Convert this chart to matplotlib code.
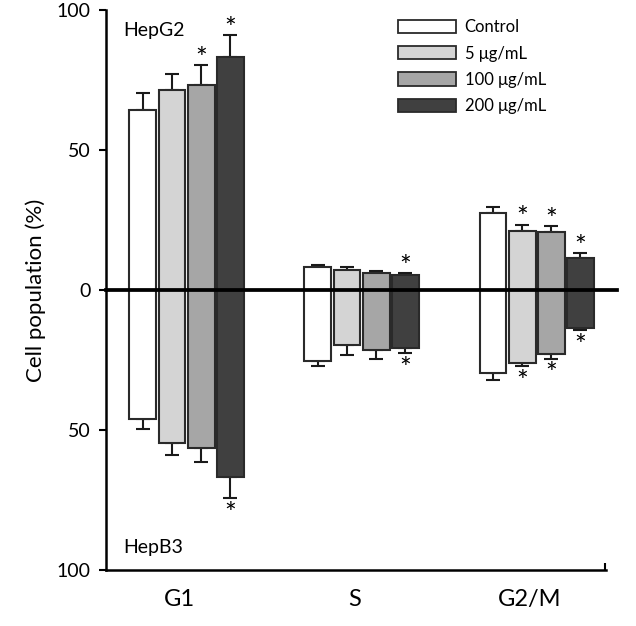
import numpy as np
import matplotlib
matplotlib.use('Agg')
import matplotlib.pyplot as plt
from matplotlib.patches import Patch

plt.rcParams['font.family'] = ['Lato', 'DejaVu Sans']

# phases and treatments
phases = ['G1', 'S', 'G2/M']
treatments = ['Control', '5 μg/mL', '100 μg/mL', '200 μg/mL']
colors = ['#ffffff', '#d4d4d4', '#a6a6a6', '#404040']

# HepG2 (drawn upward), rows = treatment, cols = phase
hepg2_mean = [[64.4, 8.2, 27.4],
              [71.4, 7.3, 21.2],
              [73.2, 6.1, 20.8],
              [83.1, 5.4, 11.6]]
hepg2_err = [[6.1, 0.9, 2.4],
             [5.9, 0.9, 2.1],
             [7.1, 0.8, 1.9],
             [8.0, 0.6, 1.6]]
hepg2_sig = [[False, False, False],
             [False, False, True],
             [True, False, True],
             [True, True, True]]

# HepB3 (drawn downward)
hepb3_mean = [[45.9, 25.2, 29.6],
              [54.8, 19.7, 25.9],
              [56.5, 21.4, 22.7],
              [66.7, 20.6, 13.4]]
hepb3_err = [[3.6, 1.9, 2.5],
             [4.2, 3.6, 1.2],
             [5.0, 3.3, 1.8],
             [7.7, 2.0, 0.9]]
hepb3_sig = [[False, False, False],
             [False, False, True],
             [False, False, True],
             [True, True, True]]

fig = plt.figure(figsize=(6.36, 6.26), dpi=100)
ax = fig.add_axes([0.1667, 0.0895, 0.7862, 0.8945])

x = np.arange(len(phases))
step = 0.166
width = 0.154

for i, t in enumerate(treatments):
    xi = x + (i - 1.5) * step
    up = np.array(hepg2_mean[i])
    dn = -np.array(hepb3_mean[i])
    ax.bar(xi, up, width, color=colors[i], edgecolor='#2a2a2a', linewidth=1.5, zorder=2)
    ax.bar(xi, dn, width, color=colors[i], edgecolor='#2a2a2a', linewidth=1.5, zorder=2)
    eu = np.array(hepg2_err[i])
    ed = np.array(hepb3_err[i])
    ax.errorbar(xi, up, yerr=[np.zeros(3), eu], fmt='none', ecolor='#1a1a1a',
                elinewidth=1.5, capsize=4.8, capthick=1.5, zorder=1)
    ax.errorbar(xi, dn, yerr=[ed, np.zeros(3)], fmt='none', ecolor='#1a1a1a',
                elinewidth=1.5, capsize=4.8, capthick=1.5, zorder=1)
    # significance stars (Lato's asterisk sits high in its box, hence the offsets)
    for j in range(3):
        if hepg2_sig[i][j]:
            ax.annotate('*', (xi[j], up[j] + eu[j]), xytext=(0, -5.5),
                        textcoords='offset points', ha='center', va='bottom', fontsize=20)
        if hepb3_sig[i][j]:
            ax.annotate('*', (xi[j], dn[j] - ed[j]), xytext=(0, -21.5),
                        textcoords='offset points', ha='center', va='bottom', fontsize=20)

ax.axhline(0, xmin=0, xmax=1.022, color='black', linewidth=2.7, zorder=3, clip_on=False)

ax.set_xlim(-0.46, 2.397)
ax.set_ylim(-100, 100)
ax.set_yticks([-100, -50, 0, 50, 100])
ax.set_yticklabels(['100', '50', '0', '50', '100'], fontsize=14)
ax.set_xticks(x - 0.04)
ax.set_xticklabels(phases, fontsize=17)
ax.set_xticks([2.39], minor=True)
ax.tick_params(axis='x', which='major', length=0, pad=14)
ax.tick_params(axis='x', which='minor', direction='in', length=5, width=1.5)
ax.tick_params(axis='y', direction='out', length=5, width=1.5, pad=6)
ax.set_ylabel('Cell population (%)', fontsize=16, labelpad=8)

for s in ['top', 'right']:
    ax.spines[s].set_visible(False)
ax.spines['left'].set_linewidth(1.8)
ax.spines['bottom'].set_linewidth(1.8)

ax.text(0.035, 0.978, 'HepG2', transform=ax.transAxes, fontsize=14, va='top')
ax.text(0.035, 0.041, 'HepB3', transform=ax.transAxes, fontsize=14, va='center')

handles = [Patch(facecolor=c, edgecolor='#2a2a2a', linewidth=1.3) for c in colors]
ax.legend(handles, treatments, loc='upper right', bbox_to_anchor=(0.898, 1.0),
          frameon=False, fontsize=12, handlelength=3.5, handleheight=0.85,
          handletextpad=0.5, labelspacing=0.62, borderaxespad=0.15)

fig.savefig('out.png', dpi=100)
